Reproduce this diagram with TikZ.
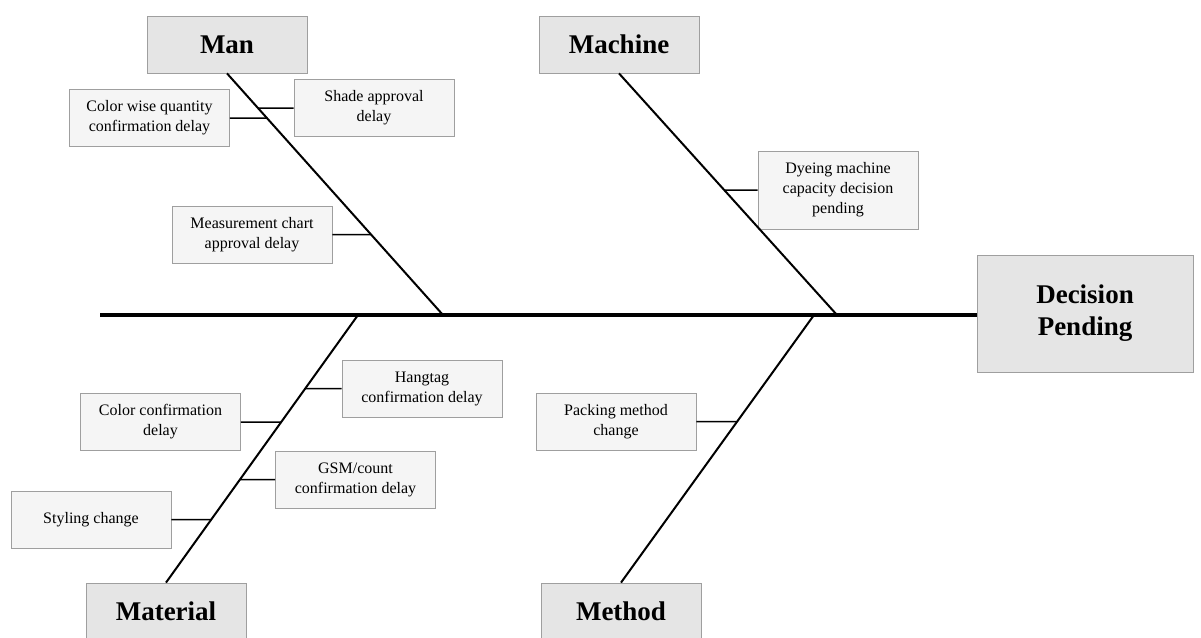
\documentclass[tikz,border=0pt]{standalone}
\usepackage{fontspec}
\setmainfont{Liberation Serif}
\usepackage{tikz}
\usetikzlibrary{calc}

\tikzset{
  catbox/.style={draw=gray!75, fill=gray!20, line width=0.8pt, minimum width=160, minimum height=57,
    inner sep=0pt, font=\bfseries\fontsize{27}{32}\selectfont, align=center},
  causebox/.style={draw=gray!75, fill=gray!8, line width=0.8pt, minimum width=160, minimum height=57,
    inner sep=0pt, font=\fontsize{16}{20}\selectfont, align=center},
  bone/.style={line width=2pt},
  twig/.style={line width=1.5pt}
}

\begin{document}
\begin{tikzpicture}[x=1pt,y=-1pt]
\useasboundingbox (0,0) rectangle (1201,637);

% effect (head)
\node [catbox, minimum width=216, minimum height=117] (effect) at (1085,313.5) {Decision\\Pending};

% main categories
\node [catbox] (man) at (227,44.5) {Man};
\node [catbox] (machine) at (619,44.5) {Machine};
\node [catbox] (material) at (166,611.5) {Material};
\node [catbox] (method) at (621,611.5) {Method};

% causes
\node [causebox] (colorqty) at (149.5,118) {Color wise quantity\\confirmation delay};
\node [causebox] (shade) at (374,108) {Shade approval\\delay};
\node [causebox] (measure) at (252,234.5) {Measurement chart\\approval delay};
\node [causebox, minimum height=78] (dyeing) at (838,190) {Dyeing machine\\capacity decision\\pending};
\node [causebox] (hangtag) at (422,388.5) {Hangtag\\confirmation delay};
\node [causebox] (colorconf) at (160.5,422) {Color confirmation\\delay};
\node [causebox] (gsm) at (355.5,479.5) {GSM/count\\confirmation delay};
\node [causebox] (styling) at (91,519.5) {Styling change};
\node [causebox] (packing) at (616,421.5) {Packing method\\change};

% spine
\coordinate (tail) at (100,315);
\coordinate (manjoint) at (443,315);
\coordinate (machinejoint) at (837,315);
\coordinate (materialjoint) at (358,315);
\coordinate (methodjoint) at (814,315);
\draw [line width=3.2pt] (tail) -- (tail-|effect.west);

% bones
\draw [bone] (man.south) -- (manjoint);
\draw [bone] (machine.south) -- (machinejoint);
\draw [bone] (material.north) -- (materialjoint);
\draw [bone] (method.north) -- (methodjoint);

% twigs
\draw [twig] (colorqty.east) -- (intersection cs: first line={(man.south)--(manjoint)}, second line={(colorqty.east)--(colorqty.east-|manjoint)});
\draw [twig] (shade.west) -- (intersection cs: first line={(man.south)--(manjoint)}, second line={(shade.west)--(shade.west-|manjoint)});
\draw [twig] (measure.east) -- (intersection cs: first line={(man.south)--(manjoint)}, second line={(measure.east)--(measure.east-|manjoint)});
\draw [twig] (dyeing.west) -- (intersection cs: first line={(machine.south)--(machinejoint)}, second line={(dyeing.west)--(dyeing.west-|machinejoint)});
\draw [twig] (hangtag.west) -- (intersection cs: first line={(material.north)--(materialjoint)}, second line={(hangtag.west)--(hangtag.west-|materialjoint)});
\draw [twig] (colorconf.east) -- (intersection cs: first line={(material.north)--(materialjoint)}, second line={(colorconf.east)--(colorconf.east-|materialjoint)});
\draw [twig] (gsm.west) -- (intersection cs: first line={(material.north)--(materialjoint)}, second line={(gsm.west)--(gsm.west-|materialjoint)});
\draw [twig] (styling.east) -- (intersection cs: first line={(material.north)--(materialjoint)}, second line={(styling.east)--(styling.east-|materialjoint)});
\draw [twig] (packing.east) -- (intersection cs: first line={(method.north)--(methodjoint)}, second line={(packing.east)--(packing.east-|methodjoint)});

\end{tikzpicture}
\end{document}
